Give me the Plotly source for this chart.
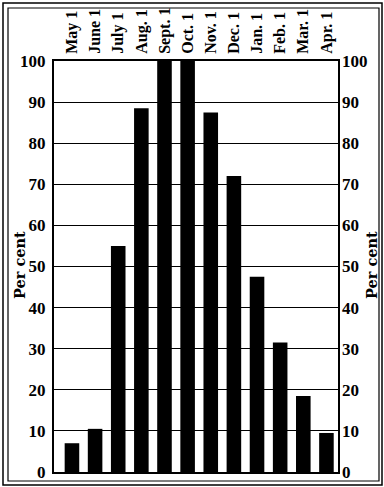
import plotly.graph_objects as go

# Monthly values, read as percentages of the peak
months = ["May 1", "June 1", "July 1", "Aug. 1", "Sept. 1", "Oct. 1",
          "Nov. 1", "Dec. 1", "Jan. 1", "Feb. 1", "Mar. 1", "Apr. 1"]
percent = [7, 10.5, 55, 88.5, 101.5, 100, 87.5, 72, 47.5, 31.5, 18.5, 9.5]
y_ticks = list(range(0, 101, 10))
y_title = "Per cent"

W, H = 384, 487
L, R, T, B = 54, 46, 61, 15
FONT = "Liberation Serif"


def px(x):
    return (x - L) / (W - L - R)


def py(y):
    return 1 - (y - T) / (H - T - B)


fig = go.Figure()
fig.add_trace(go.Bar(
    x=months, y=percent, marker=dict(color="black", line=dict(width=0)),
    cliponaxis=False, hoverinfo="skip", showlegend=False,
))
# anchor trace so the right-hand axis is drawn
fig.add_trace(go.Scatter(
    x=[months[0]], y=[0], yaxis="y2", mode="markers",
    marker=dict(opacity=0), showlegend=False, hoverinfo="skip",
))

tickfont = dict(family=FONT, size=17, color="black", weight="bold")
titlefont = dict(family="DejaVu Serif", size=14.5, color="black", weight="bold")

fig.update_layout(
    width=W, height=H,
    margin=dict(l=L, r=R, t=T, b=B),
    paper_bgcolor="white", plot_bgcolor="white",
    bargap=0.37,
    xaxis=dict(
        side="top", tickangle=-90, automargin=False,
        tickfont=dict(family=FONT, size=16, color="black", weight="bold"),
        showline=True, linecolor="black", linewidth=2, mirror=True,
        showgrid=False, ticks="", ticklabelstandoff=2,
    ),
    yaxis=dict(
        range=[0, 100], tickvals=y_ticks, tickfont=tickfont, automargin=False,
        showgrid=True, gridcolor="black", gridwidth=1.3,
        showline=True, linecolor="black", linewidth=2, mirror=True,
        ticks="", zeroline=False, ticklabelstandoff=3,
    ),
    yaxis2=dict(
        range=[0, 100], tickvals=y_ticks, tickfont=tickfont, automargin=False,
        overlaying="y", side="right", showgrid=False, zeroline=False,
        ticks="", ticklabelstandoff=3,
    ),
    annotations=[
        dict(text=y_title, xref="paper", yref="paper", x=px(19), y=py(265),
             textangle=-90, showarrow=False, font=titlefont,
             xanchor="center", yanchor="middle"),
        dict(text=y_title, xref="paper", yref="paper", x=px(371), y=py(265),
             textangle=-90, showarrow=False, font=titlefont,
             xanchor="center", yanchor="middle"),
    ],
    shapes=[
        dict(type="rect", xref="paper", yref="paper",
             x0=px(3), x1=px(382), y0=py(3), y1=py(485),
             line=dict(color="black", width=1.5), layer="below"),
        dict(type="rect", xref="paper", yref="paper",
             x0=px(8), x1=px(379), y0=py(8), y1=py(481),
             line=dict(color="black", width=1.2), layer="below"),
    ],
)

fig.write_html("out.html")
